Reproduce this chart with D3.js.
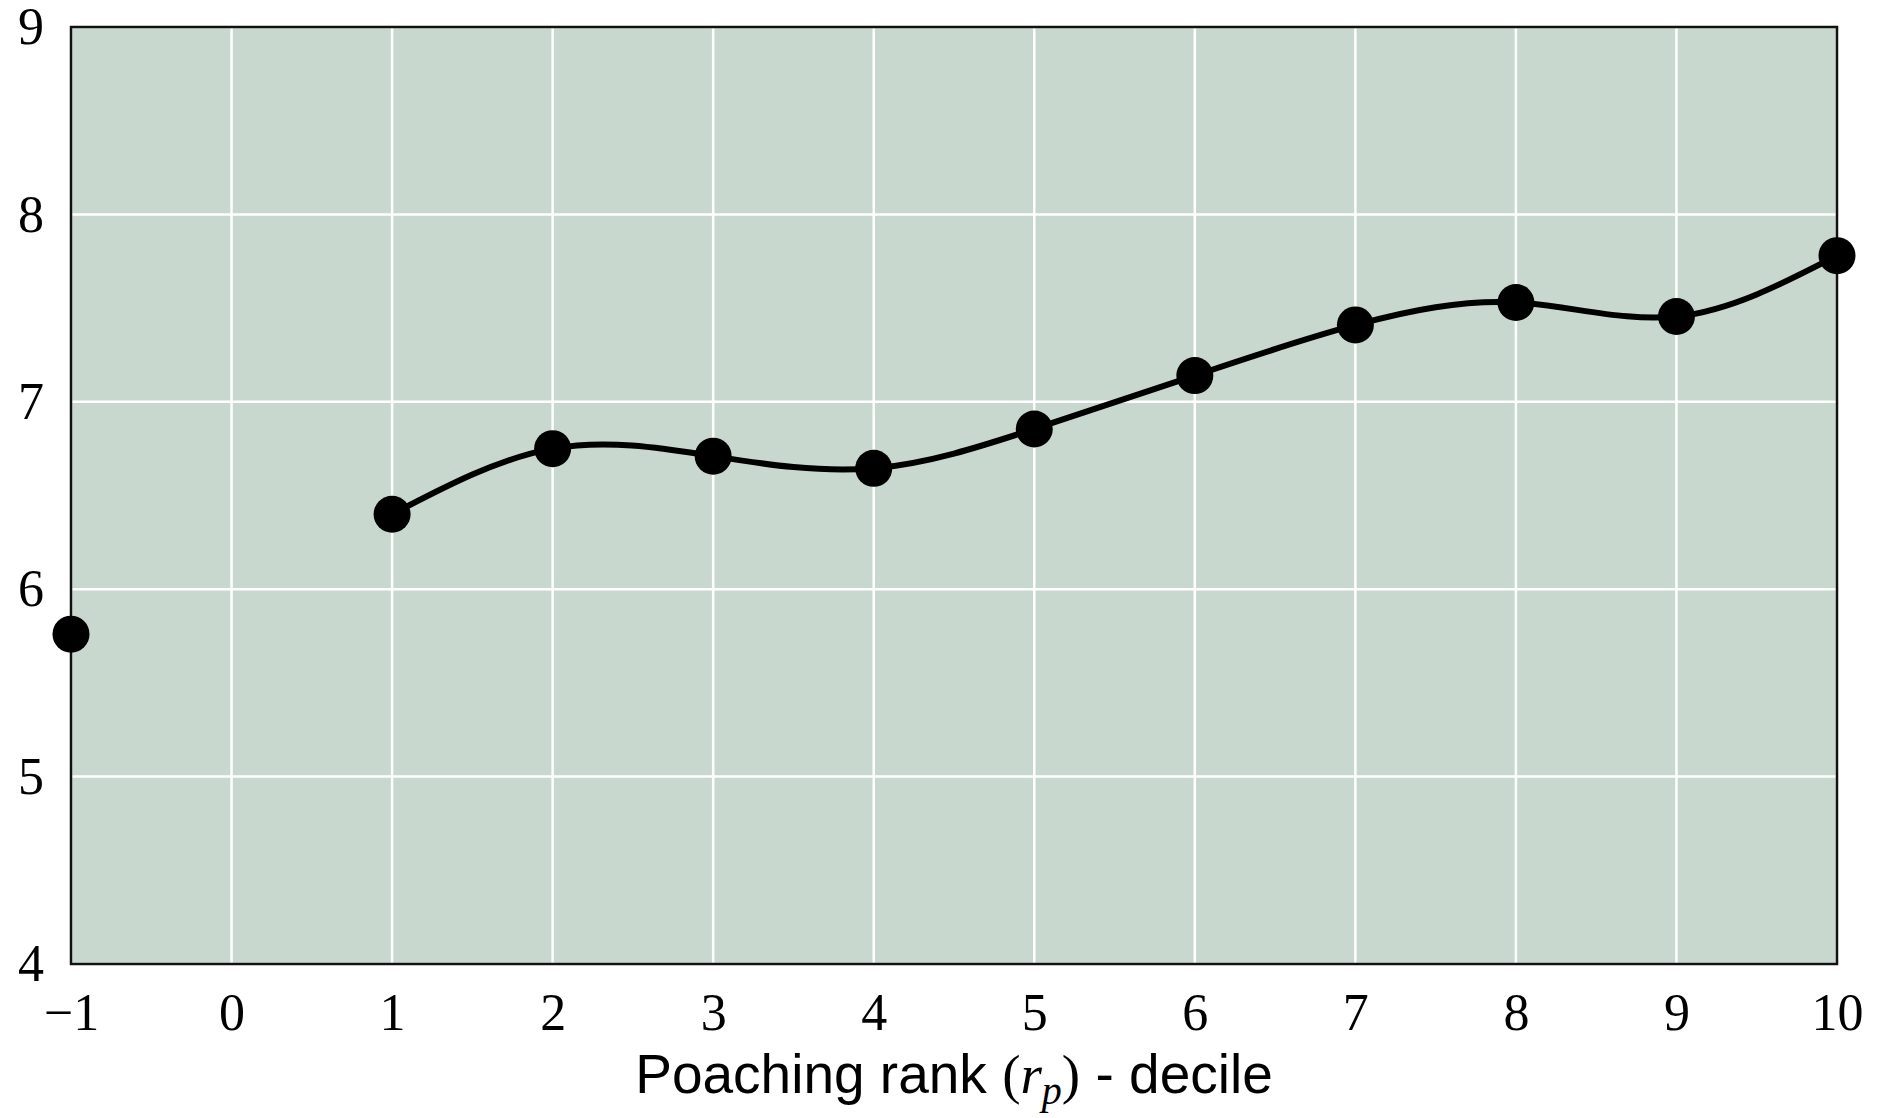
<!DOCTYPE html>
<html>
<head>
<meta charset="utf-8">
<script src="https://cdn.jsdelivr.net/npm/d3@7"></script>
<style>
  body { margin: 0; background: #fff; }
  svg { display: block; }
</style>
</head>
<body>
<div id="chart"></div>
<script>
// deciles and the value read off for each (decile -1 stands alone, no line to it)
const deciles = [-1, 1, 2, 3, 4, 5, 6, 7, 8, 9, 10];
const values = [5.76, 6.40, 6.75, 6.71, 6.645, 6.855, 7.14, 7.41, 7.53, 7.455, 7.78];
const xTicks = [-1, 0, 1, 2, 3, 4, 5, 6, 7, 8, 9, 10];
const yTicks = [4, 5, 6, 7, 8, 9];

const W = 1890, H = 1118;
const margin = {top: 27, right: 53, bottom: 154, left: 71};
const width = W - margin.left - margin.right,
      height = H - margin.top - margin.bottom;

const svg = d3.select("#chart")
    .append("svg")
    .attr("width", W)
    .attr("height", H);

const g = svg.append("g")
    .attr("transform", `translate(${margin.left},${margin.top})`);

const x = d3.scaleLinear().domain([-1, 10]).range([0, width]);
const y = d3.scaleLinear().domain([4, 9]).range([height, 0]);

// panel background
g.append("rect")
    .attr("width", width)
    .attr("height", height)
    .attr("fill", "#c9d8ce");

// white grid
g.selectAll(".vgrid")
    .data(xTicks)
    .join("line")
    .attr("x1", d => x(d)).attr("x2", d => x(d))
    .attr("y1", 0).attr("y2", height)
    .attr("stroke", "#fff")
    .attr("stroke-width", 2.5);

g.selectAll(".hgrid")
    .data(yTicks)
    .join("line")
    .attr("x1", 0).attr("x2", width)
    .attr("y1", d => y(d)).attr("y2", d => y(d))
    .attr("stroke", "#fff")
    .attr("stroke-width", 2.5);

// frame
g.append("rect")
    .attr("width", width)
    .attr("height", height)
    .attr("fill", "none")
    .attr("stroke", "#111")
    .attr("stroke-width", 2.5);

// axes, text only
const xAxis = g.append("g")
    .attr("transform", `translate(0,${height})`)
    .call(d3.axisBottom(x).tickValues(xTicks).tickSize(0).tickPadding(29)
        .tickFormat(d => d < 0 ? "\u2212" + Math.abs(d) : d));
const yAxis = g.append("g")
    .call(d3.axisLeft(y).tickValues(yTicks).tickSize(0).tickPadding(27)
        .tickFormat(d3.format("d")));

[xAxis, yAxis].forEach(a => {
    a.select(".domain").remove();
    a.selectAll("text")
        .attr("font-family", "'Liberation Serif', 'Times New Roman', serif")
        .attr("font-size", 52)
        .attr("fill", "#000");
});

// smooth line through deciles 1..10
const pts = deciles.map((d, i) => ({d: d, v: values[i]}));
const line = d3.line()
    .x(p => x(p.d))
    .y(p => y(p.v))
    .curve(d3.curveNatural);

g.append("path")
    .datum(pts.filter(p => p.d >= 1))
    .attr("d", line)
    .attr("fill", "none")
    .attr("stroke", "#000")
    .attr("stroke-width", 6);

g.selectAll(".dot")
    .data(pts)
    .join("circle")
    .attr("cx", p => x(p.d))
    .attr("cy", p => y(p.v))
    .attr("r", 18.5)
    .attr("fill", "#000");

// x label
const lab = svg.append("text")
    .attr("x", margin.left + width / 2)
    .attr("y", 1093)
    .attr("text-anchor", "middle")
    .attr("font-family", "'Liberation Sans', Arial, sans-serif")
    .attr("font-size", 55)
    .attr("fill", "#000");
lab.append("tspan").text("Poaching rank ");
lab.append("tspan").attr("font-family", "'Liberation Serif', serif").text("(");
lab.append("tspan").attr("font-family", "'Liberation Serif', serif")
    .attr("font-style", "italic").text("r");
lab.append("tspan").attr("font-family", "'Liberation Serif', serif")
    .attr("font-style", "italic").attr("font-size", 40).attr("dy", 11).text("p");
lab.append("tspan").attr("font-family", "'Liberation Serif', serif")
    .attr("dy", -11).text(")");
lab.append("tspan").text(" - decile");
</script>
</body>
</html>
